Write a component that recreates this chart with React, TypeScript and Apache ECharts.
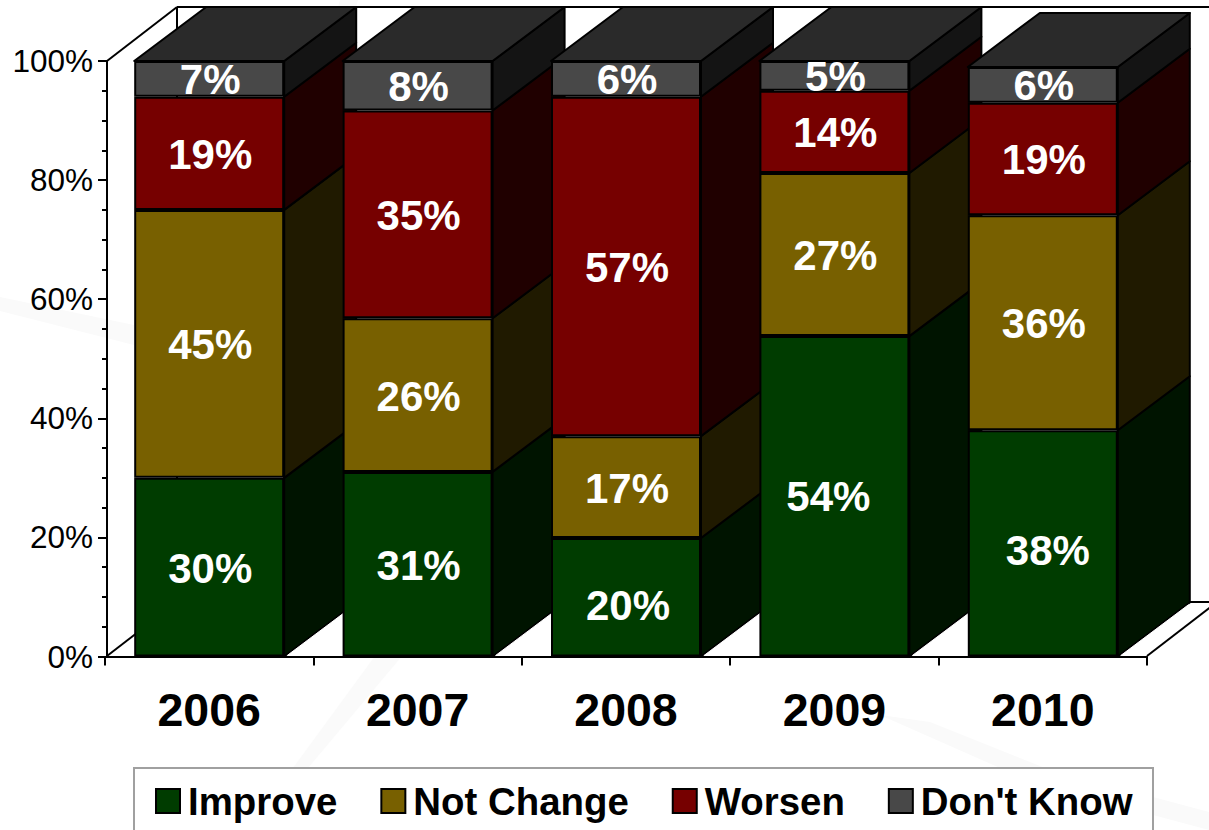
import React, { useEffect, useRef } from "react";
import * as echarts from "echarts";

const years = ["2006", "2007", "2008", "2009", "2010"];
const improve = [30, 31, 19.9, 53.8, 38];
const notChange = [45, 25.8, 17.1, 27.4, 36.1];
const worsen = [19, 34.9, 57, 13.8, 18.9];
const dontKnow = [6, 8.3, 6, 5, 6];
const improveLabels = ["30%", "31%", "20%", "54%", "38%"];
const notChangeLabels = ["45%", "26%", "17%", "27%", "36%"];
const worsenLabels = ["19%", "35%", "57%", "14%", "19%"];
const dontKnowLabels = ["7%", "8%", "6%", "5%", "6%"];
const yTicks = [0, 20, 40, 60, 80, 100];

const names = ["Improve", "Not Change", "Worsen", "Don't Know"];
const values = [improve, notChange, worsen, dontKnow];
const labels = [improveLabels, notChangeLabels, worsenLabels, dontKnowLabels];
const frontColors = ["#003c00", "#786000", "#760000", "#484848"];
const sideColors = ["#001400", "#201a00", "#200000", "#141414"];
const topColor = "#2a2a2a";
const BAR_W = 150;
const DX = 72;
const DY = -54;

// a few labels sit off-centre in the reference
const labelShift: Record<string, [number, number]> = {
  "0-2": [2, 8],
  "0-3": [-6, 0],
  "0-4": [5, 7],
};

const depthData: number[][] = [];
years.forEach((_, c) => {
  let acc = 0;
  values.forEach((v, s) => {
    depthData.push([c, acc, acc + v[c], s]);
    acc += v[c];
  });
});

function renderDepth(params: any, api: any) {
  const c = api.value(0);
  const lo = api.coord([c, api.value(1)]);
  const hi = api.coord([c, api.value(2)]);
  const s = api.value(3);
  const xr = lo[0] + BAR_W / 2;
  const xl = lo[0] - BAR_W / 2;
  const stroke = { stroke: "#000", lineWidth: 2, lineJoin: "round" };
  const children: any[] = [
    {
      type: "polygon",
      shape: {
        points: [
          [xr, lo[1]],
          [xr + DX, lo[1] + DY],
          [xr + DX, hi[1] + DY],
          [xr, hi[1]],
        ],
      },
      style: { fill: sideColors[s], ...stroke },
    },
  ];
  if (s === 0) {
    children.push({
      type: "line",
      shape: { x1: xr + 3, y1: lo[1] - 1, x2: xr + DX - 1, y2: lo[1] + DY + 2 },
      style: { stroke: "#ffffff", lineWidth: 1 },
    });
  }
  if (s === values.length - 1) {
    children.push({
      type: "polygon",
      shape: {
        points: [
          [xl, hi[1]],
          [xr, hi[1]],
          [xr + DX, hi[1] + DY],
          [xl + DX, hi[1] + DY],
        ],
      },
      style: { fill: topColor, ...stroke },
    });
  }
  return { type: "group", children };
}

export default function App() {
  const ref = useRef<HTMLDivElement>(null);
  useEffect(() => {
    document.body.style.margin = "0";
    const chart = echarts.init(ref.current!, null, { renderer: "svg" });
    const wallLine = { stroke: "#000", lineWidth: 2, fill: "none" };
    const swoosh = (points: number[][]) => ({
      type: "polygon",
      shape: { points },
      style: { fill: "#fafafa" },
    });
    chart.setOption({
      animation: false,
      backgroundColor: "#ffffff",
      textStyle: { fontFamily: "Liberation Sans" },
      grid: { left: 105, width: 1042, top: 61, height: 595.5 },
      legend: {
        data: names.map((name) => ({ name, icon: "rect" })),
        left: 155,
        top: 782,
        itemWidth: 24,
        itemHeight: 24,
        itemGap: 43,
        selectedMode: false,
        padding: 0,
        z: 5,
        textStyle: {
          fontFamily: "Liberation Sans",
          fontWeight: "bold",
          fontSize: 38.4,
          color: "#000",
          padding: [0, 0, 0, 3],
        },
      },
      graphic: [
        swoosh([[375, 656], [402, 656], [308, 768], [293, 768]]),
        swoosh([[0, 297], [134, 325], [134, 345], [0, 311]]),
        swoosh([[880, 715], [930, 722], [1045, 768], [1000, 768]]),
        swoosh([[1153, 797], [1209, 812], [1209, 830], [1153, 815]]),
        swoosh([[338, 7], [356, 7], [358, 0], [340, 0]]),
        {
          type: "polygon",
          shape: { points: [[177, 7], [1230, 7], [1230, 602], [177, 602]] },
          style: { fill: "#ffffff" },
        },
        { type: "line", shape: { x1: 107, y1: 61, x2: 177, y2: 7 }, style: wallLine },
        { type: "line", shape: { x1: 177, y1: 7, x2: 1209, y2: 7 }, style: wallLine },
        { type: "line", shape: { x1: 177, y1: 7, x2: 177, y2: 602 }, style: wallLine },
        { type: "line", shape: { x1: 177, y1: 602, x2: 1209, y2: 602 }, style: wallLine },
        { type: "line", shape: { x1: 107, y1: 656, x2: 177, y2: 602 }, style: wallLine },
        { type: "line", shape: { x1: 1147, y1: 656, x2: 1217, y2: 602 }, style: wallLine },
        {
          type: "rect",
          shape: { x: 134, y: 768, width: 1019, height: 100 },
          style: { fill: "#ffffff", stroke: "#a0a0a0", lineWidth: 2 },
        },
      ],
      xAxis: {
        type: "category",
        data: years,
        axisLine: { lineStyle: { color: "#000", width: 2 } },
        axisTick: { show: true, length: 9, lineStyle: { color: "#000", width: 2 } },
        axisLabel: { fontFamily: "Liberation Sans", fontWeight: "bold", fontSize: 46.5, color: "#000", margin: 30 },
      },
      yAxis: {
        type: "value",
        min: yTicks[0],
        max: yTicks[yTicks.length - 1],
        interval: yTicks[1] - yTicks[0],
        offset: -2,
        splitLine: { show: false },
        axisLine: { show: true, lineStyle: { color: "#000", width: 2 } },
        axisTick: { show: true, length: 9, lineStyle: { color: "#000", width: 2 } },
        minorTick: { show: true, splitNumber: 4, length: 5, lineStyle: { color: "#000", width: 2 } },
        minorSplitLine: { show: false },
        axisLabel: {
          fontFamily: "Liberation Sans",
          fontSize: 31.5,
          color: "#000",
          margin: 14,
          formatter: "{value}%",
        },
      },
      series: [
        {
          type: "custom",
          name: "depth",
          z: 1,
          clip: false,
          silent: true,
          renderItem: renderDepth,
          encode: { x: 0, y: [1, 2] },
          data: depthData,
        },
        ...names.map((name, s) => ({
          type: "bar",
          name,
          stack: "share",
          z: 3,
          barWidth: BAR_W,
          itemStyle: { color: frontColors[s], borderColor: "#000", borderWidth: 2 },
          label: {
            show: true,
            position: "inside",
            color: "#fff",
            fontFamily: "Liberation Sans",
            fontWeight: "bold",
            fontSize: 42,
          },
          data: values[s].map((v, c) => ({
            value: v,
            label: {
              formatter: labels[s][c],
              offset: labelShift[`${s}-${c}`] ?? [1, 1],
            },
          })),
        })),
      ],
    });
    return () => chart.dispose();
  }, []);
  return <div ref={ref} style={{ width: 1209, height: 830, overflow: "hidden" }} />;
}
